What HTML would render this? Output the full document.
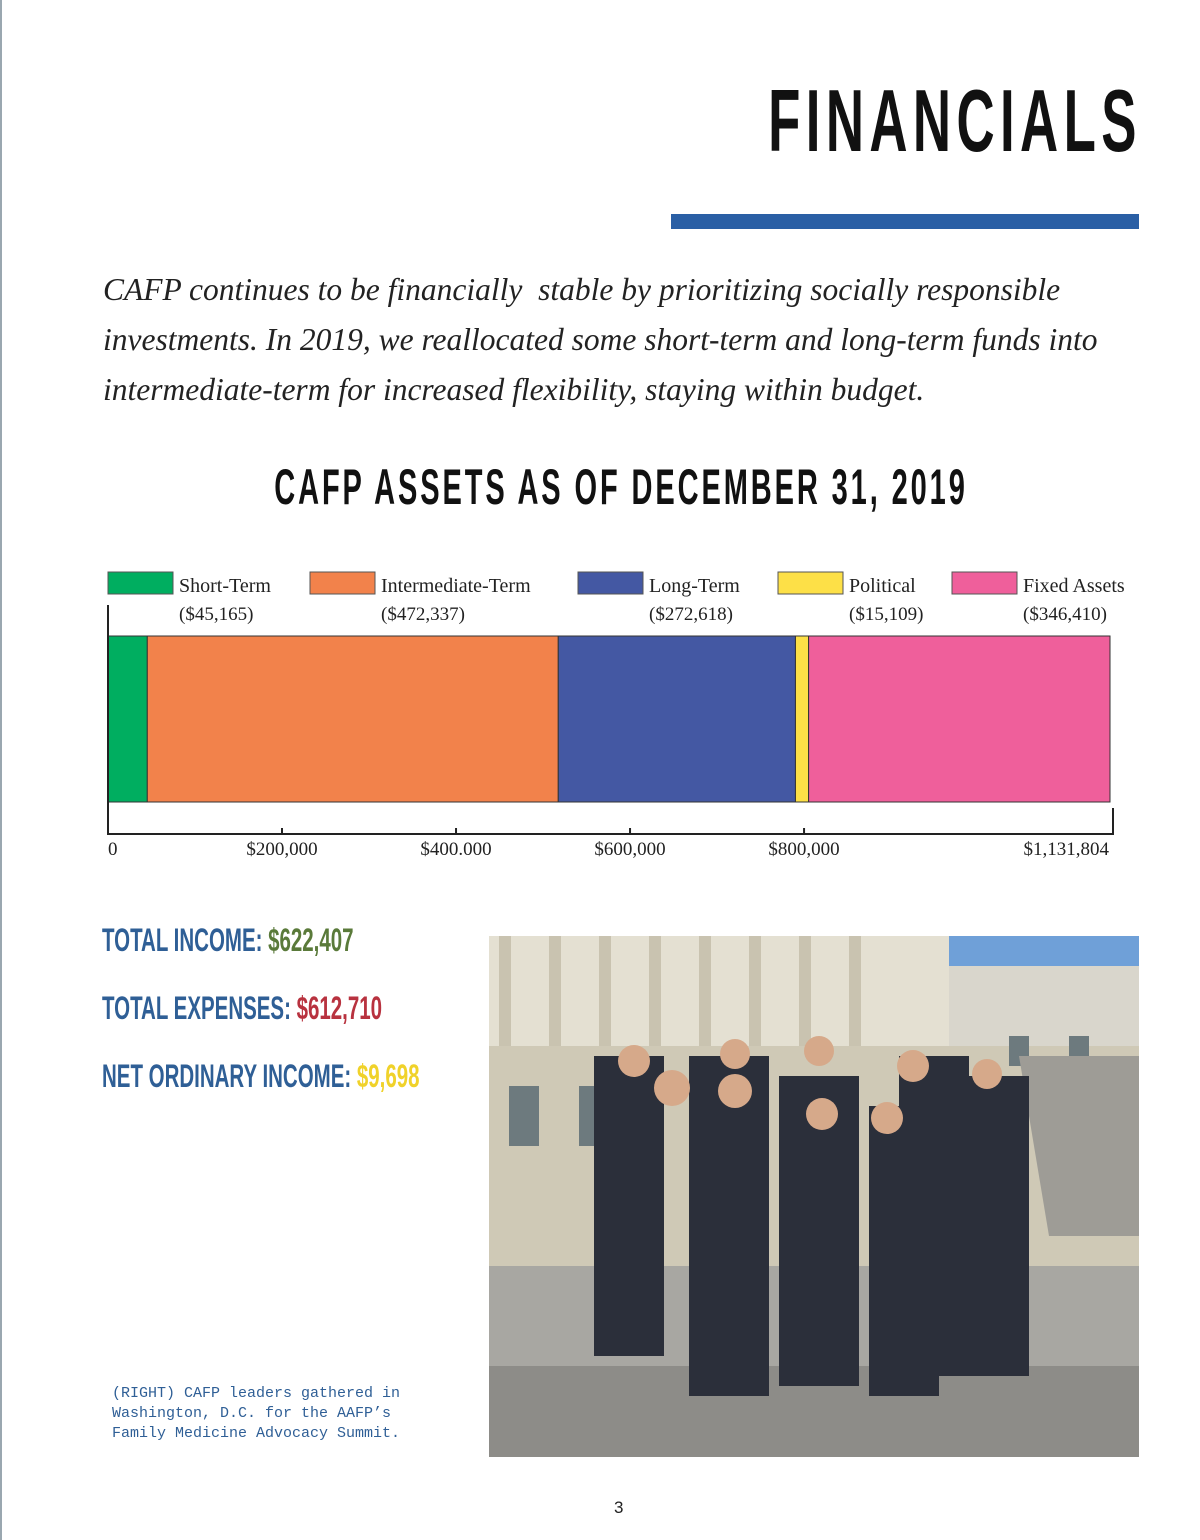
<!DOCTYPE html>
<html><head><meta charset="utf-8"><style>
body{margin:0;background:#fff;}
#page{position:relative;width:1200px;height:1540px;overflow:hidden;background:#fff;font-family:"Liberation Sans",sans-serif;}
.abs{position:absolute;white-space:nowrap;}
.narrow{font-family:"Liberation Sans",sans-serif;font-weight:bold;}
.para{font-family:"Liberation Serif",serif;font-style:italic;font-size:31.5px;color:#222;left:103px;}
.stat{font-size:32px;left:102px;color:#2f5f96;transform:scaleX(0.64);transform-origin:left;}
.cap{font-family:"Liberation Mono",monospace;font-size:15px;color:#2f5f96;left:112px;}
</style></head><body>
<div id="page">
<div class="abs" style="left:0;top:0;width:2px;height:1540px;background:#9aa7b0"></div>
<div class="abs narrow" style="right:58px;top:70px;font-size:88px;letter-spacing:9px;color:#111;transform:scaleX(0.6);transform-origin:right;">FINANCIALS</div>
<div class="abs" style="left:671px;top:214px;width:468px;height:15px;background:#2a5fa5"></div>
<div class="abs para" style="top:272px">CAFP continues to be financially &nbsp;stable by prioritizing socially responsible</div>
<div class="abs para" style="top:322px">investments. In 2019, we reallocated some short-term and long-term funds into</div>
<div class="abs para" style="top:372px">intermediate-term for increased flexibility, staying within budget.</div>
<div class="abs narrow" style="left:0;width:1242px;text-align:center;top:458px;font-size:50px;letter-spacing:5px;color:#111;transform:scaleX(0.58);transform-origin:621px 0;">CAFP ASSETS AS OF DECEMBER 31, 2019</div>

<svg class="abs" style="left:0;top:0" width="1200" height="900" id="chart"></svg>

<div class="abs narrow stat" style="top:922px">TOTAL INCOME: <span style="color:#5a7a3a">$622,407</span></div>
<div class="abs narrow stat" style="top:990px">TOTAL EXPENSES: <span style="color:#b8323f">$612,710</span></div>
<div class="abs narrow stat" style="top:1058px">NET ORDINARY INCOME: <span style="color:#f0d22a">$9,698</span></div>

<svg class="abs" style="left:489px;top:936px" width="650" height="521">
<rect width="650" height="521" fill="#d9d6cc"/>
<rect x="450" y="0" width="200" height="30" fill="#6fa0d8"/>
<rect x="0" y="0" width="460" height="120" fill="#e4e0d2"/>
<g fill="#c9c3b0"><rect x="10" y="0" width="12" height="110"/><rect x="60" y="0" width="12" height="110"/><rect x="110" y="0" width="12" height="110"/><rect x="160" y="0" width="12" height="110"/><rect x="210" y="0" width="12" height="110"/><rect x="260" y="0" width="12" height="110"/><rect x="310" y="0" width="12" height="110"/><rect x="360" y="0" width="12" height="110"/></g>
<rect x="0" y="110" width="650" height="230" fill="#cfc9b6"/>
<g fill="#6d7a7e"><rect x="20" y="150" width="30" height="60"/><rect x="90" y="150" width="30" height="60"/><rect x="520" y="100" width="20" height="30"/><rect x="580" y="100" width="20" height="30"/></g>
<polygon points="530,120 650,120 650,300 560,300" fill="#9e9c96"/>
<rect x="0" y="330" width="650" height="191" fill="#a8a7a2"/>
<rect x="0" y="430" width="650" height="91" fill="#8d8c88"/>
<g fill="#2b2f3a"><rect x="105" y="120" width="70" height="300"/><rect x="200" y="120" width="80" height="340"/><rect x="290" y="140" width="80" height="310"/><rect x="380" y="170" width="70" height="290"/><rect x="410" y="120" width="70" height="320"/><rect x="480" y="140" width="60" height="300"/></g>
<g fill="#d6a98a"><circle cx="145" cy="125" r="16"/><circle cx="183" cy="152" r="18"/><circle cx="246" cy="118" r="15"/><circle cx="246" cy="155" r="17"/><circle cx="330" cy="115" r="15"/><circle cx="333" cy="178" r="16"/><circle cx="398" cy="182" r="16"/><circle cx="424" cy="130" r="16"/><circle cx="498" cy="138" r="15"/></g>
</svg>

<div class="abs cap" style="top:1385px">(RIGHT) CAFP leaders gathered in</div>
<div class="abs cap" style="top:1405px">Washington, D.C. for the AAFP’s</div>
<div class="abs cap" style="top:1425px">Family Medicine Advocacy Summit.</div>
<div class="abs" style="left:614px;top:1498px;font-size:17px;color:#222">3</div>
</div>
<script>
const categories=["Short-Term","Intermediate-Term","Long-Term","Political","Fixed Assets"];
const values=[45165,472337,272618,15109,346410];
const valueLabels=["($45,165)","($472,337)","($272,618)","($15,109)","($346,410)"];
const tickValues=[0,200000,400000,600000,800000];
const tickLabels=["0","$200,000","$400.000","$600,000","$800,000"];
const totalLabel="$1,131,804";
const colors=["#00ae60","#f2824b","#4458a3","#fde047","#ef5f9b"];
const NS="http://www.w3.org/2000/svg";
const svg=document.getElementById("chart");
const x0=108,x1=1110,total=values.reduce((a,b)=>a+b,0);
function xs(v){return x0+v*(x1-x0)/total;}
function mk(t,a){const e=document.createElementNS(NS,t);for(const k in a)e.setAttribute(k,a[k]);svg.appendChild(e);return e;}
const serif='"Liberation Serif",serif';
const legX=[108,310,578,778,952];
categories.forEach((c,i)=>{
 const r=mk("rect",{x:legX[i],y:572,width:65,height:22,fill:colors[i],stroke:"#555","stroke-width":1});
 
 
 const t=mk("text",{x:legX[i]+71,y:592,"font-family":serif,"font-size":20,fill:"#222"});t.textContent=c;
 
 
 const v=mk("text",{x:legX[i]+71,y:620,"font-family":serif,"font-size":19,fill:"#222"});v.textContent=valueLabels[i];
 
 
});
let cum=0;
values.forEach((v,i)=>{
 const a=xs(cum),b=xs(cum+v);cum+=v;
 const r=mk("rect",{x:a,y:636,width:b-a,height:166,fill:colors[i],stroke:"#333","stroke-width":1});
 
 
});
const ax=mk("path",{d:"M108 605 V834 H1113 V808",fill:"none",stroke:"#222","stroke-width":2});


tickValues.forEach((v,i)=>{
 const x=xs(v);
 if(i>0){const tk=mk("line",{x1:x,x2:x,y1:828,y2:834,stroke:"#222","stroke-width":2});
 
 }
 const t=mk("text",{x:x,y:855,"font-family":serif,"font-size":19,fill:"#222","text-anchor":i==0?"start":"middle"});t.textContent=tickLabels[i];
 
 
});
const tl=mk("text",{x:1109,y:855,"font-family":serif,"font-size":19,fill:"#222","text-anchor":"end"});tl.textContent=totalLabel;


</script>
</body></html>
